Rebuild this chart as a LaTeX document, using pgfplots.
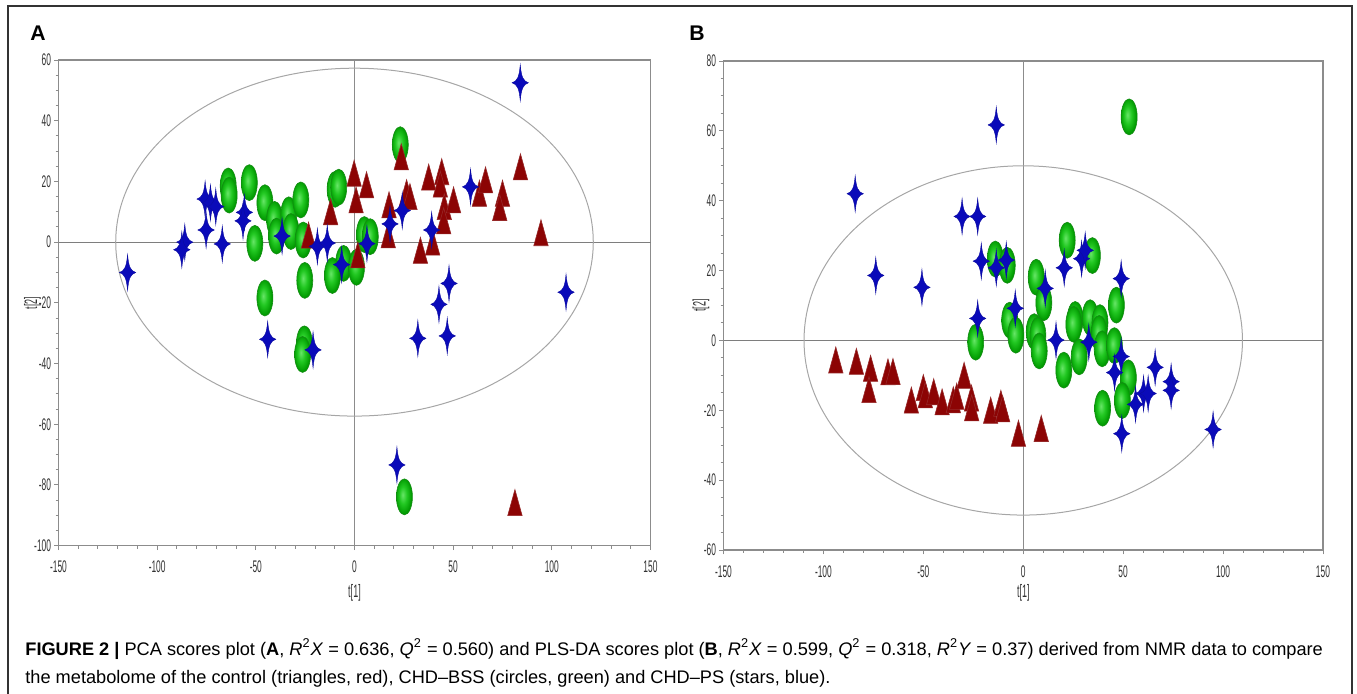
\documentclass[border=0pt]{standalone}
\usepackage{pgfplots}
\pgfplotsset{compat=1.18}
\usepackage{fontspec}
\setmainfont{Liberation Sans}
\newfontfamily\narrow[FakeStretch=0.5]{Liberation Sans}
\definecolor{trifill}{RGB}{140,4,4}
\definecolor{tridraw}{RGB}{150,40,40}
\definecolor{ellfill}{RGB}{34,200,34}
\definecolor{elldraw}{RGB}{20,140,20}
\definecolor{starfill}{RGB}{10,10,185}
\definecolor{stardraw}{RGB}{10,10,160}
\definecolor{axgray}{RGB}{140,140,140}
\definecolor{ticktext}{RGB}{50,50,50}
\pgfdeclareradialshading{greenshade}{\pgfpoint{-0.2cm}{0.1cm}}{%
  color(0bp)=(green!55!white!90!black); color(12bp)=(ellfill); color(25bp)=(green!60!black); color(50bp)=(green!60!black)}

\pgfdeclareplotmark{tri}{%
  \pgfpathmoveto{\pgfqpoint{0pt}{6.5pt}}%
  \pgfpathlineto{\pgfqpoint{3.6pt}{-6.5pt}}%
  \pgfpathlineto{\pgfqpoint{-3.6pt}{-6.5pt}}%
  \pgfpathclose
  \pgfusepathqfillstroke}
\pgfdeclareplotmark{ell}{%
  \pgfpathellipse{\pgfpointorigin}{\pgfqpoint{4pt}{0pt}}{\pgfqpoint{0pt}{9pt}}%
  \pgfshadepath{greenshade}{0}%
  \pgfusepath{stroke}}
\pgfdeclareplotmark{star4}{%
  \pgfpathmoveto{\pgfqpoint{4.1pt}{0pt}}%
  \pgfpathcurveto{\pgfqpoint{1.5pt}{0.8pt}}{\pgfqpoint{0.55pt}{2.8pt}}{\pgfqpoint{0pt}{9pt}}%
  \pgfpathcurveto{\pgfqpoint{-0.55pt}{2.8pt}}{\pgfqpoint{-1.5pt}{0.8pt}}{\pgfqpoint{-4.1pt}{0pt}}%
  \pgfpathcurveto{\pgfqpoint{-1.5pt}{-0.8pt}}{\pgfqpoint{-0.55pt}{-2.8pt}}{\pgfqpoint{0pt}{-9pt}}%
  \pgfpathcurveto{\pgfqpoint{0.55pt}{-2.8pt}}{\pgfqpoint{1.5pt}{-0.8pt}}{\pgfqpoint{4.1pt}{0pt}}%
  \pgfpathclose
  \pgfusepathqfillstroke}

\pgfplotsset{
  scoreplot/.style={
    scale only axis,
    anchor=south west,
    axis line style={axgray, line width=0.7pt},
    tick style={axgray, line width=0.5pt},
    tick align=outside,
    xtick pos=left, ytick pos=left,
    major tick length=2.2pt, minor tick length=1.4pt,
    minor x tick num=4, minor y tick num=3,
    xmin=-150, xmax=150, xtick={-150,-100,...,150},
    /pgf/number format/assume math mode=true,
    ticklabel style={font=\narrow\fontsize{8.4}{9}\selectfont, text=ticktext},
    xticklabel style={yshift=-2pt},
    yticklabel style={xshift=2pt},
    label style={font=\narrow\fontsize{9}{9}\selectfont, text=ticktext},
    xlabel={t[1]}, ylabel={t[2]},
    clip=false,
  },
  green pts/.style={only marks, mark=ell, mark options={draw=elldraw, line width=0.3pt}},
  red pts/.style={only marks, mark=tri, mark options={fill=trifill, draw=tridraw, line width=0.3pt}},
  blue pts/.style={only marks, mark=star4, mark options={fill=starfill, draw=stardraw, line width=0.2pt}},
}

\begin{document}
\begin{tikzpicture}
\path[use as bounding box] (0pt,0pt) rectangle (678.5pt,346.5pt);
\draw[line width=1pt, black!80] (3.9pt,-1pt) -- (3.9pt,343.4pt) -- (676pt,343.4pt) -- (676pt,-1pt);

\node[font=\bfseries\fontsize{10.6}{11}\selectfont] at (19pt,330pt) {A};
\node[font=\bfseries\fontsize{10.6}{11}\selectfont] at (348.5pt,330pt) {B};

% Panel A
\begin{axis}[scoreplot, at={(29.25pt,73.65pt)}, width=296pt, height=242.85pt,
  ymin=-100, ymax=60, ytick={-100,-80,...,60},
  xlabel style={at={(axis description cs:0.5,-0.0976)}, anchor=center},
  ylabel style={at={(axis description cs:-0.044,0.5)}, anchor=center}]
\addplot[axgray!90!black, line width=0.5pt] coordinates {(-150,0) (150,0)};
\addplot[axgray, line width=0.4pt] coordinates {(0,-100) (0,60)};
\draw[gray!70, line width=0.5pt] (axis cs:0,0) ellipse [x radius=121, y radius=57.3];
\addplot[green pts] table {
x y
-64 18.5
-63.5 15.5
-53.3 19.6
-45.4 13
-40.5 7.5
-39.5 2
-50.5 -0.4
-33.3 9
-32.2 3.5
-27.2 13.9
-26 0.7
-9.8 17.4
-8 18.1
5 2.5
8 1.8
23.2 32.1
-5.5 -7
-11.2 -11
1 -8.3
-25.2 -12.6
-45.4 -18.4
-25.4 -33.5
-26.3 -37
25.3 -83.9
};
\addplot[red pts] table {
x y
23.7 28.1
-0.2 22.7
6.1 18.9
0.8 13.9
-12.1 10
-23.3 2.3
1.7 -4.2
17.5 12.3
17.1 2.4
26.4 16.3
28.1 15
37.6 21.4
44.2 23.2
43.5 19.1
45.5 11.7
50.2 13.9
45.2 7
39.6 0
33.4 -2.7
63.3 16.1
66.4 20.5
75 16.1
73.6 11.4
84.1 24.8
94.5 3.1
81.3 -85.8
};
\addplot[blue pts] table {
x y
84 52.5
-115 -10
-86 0
-87.5 -2.5
-75.7 14.2
-73 13
-70.3 11.7
-75.2 4
-67 -0.6
-55.8 9.8
-56.5 7.0
-36.7 2
-18.8 -1.4
-13.8 -0.3
-6.5 -7.4
-44 -32
-21 -35.5
58.8 18.2
24.2 10.4
18 6
39.1 4
6.3 -0.5
47.9 -13.6
42.8 -20.5
107.2 -16.5
32.1 -31.7
47 -30.9
21.5 -73.4
};
\end{axis}

% Panel B
\begin{axis}[scoreplot, at={(361.75pt,71.5pt)}, width=299.75pt, height=244.5pt,
  ymin=-60, ymax=80, ytick={-60,-40,...,80},
  xlabel style={at={(axis description cs:0.5,-0.0879)}, anchor=center},
  ylabel style={at={(axis description cs:-0.0377,0.5)}, anchor=center}]
\addplot[axgray!90!black, line width=0.5pt] coordinates {(-150,0) (150,0)};
\addplot[axgray, line width=0.4pt] coordinates {(0,-60) (0,80)};
\draw[gray!70, line width=0.5pt] (axis cs:0,0) ellipse [x radius=109.7, y radius=50];
\addplot[green pts] table {
x y
53 64
-14 23.3
-8 21.5
22 28.7
34.6 24.3
6.5 18.1
10.3 10.8
46.6 10.1
-6.8 5.8
-3.7 1.5
5.5 2.5
7.3 1.5
8 -3
-23.8 -0.5
26 6
25.3 4.6
33.5 6.5
38.4 5.1
38 2
28 -4.7
20.3 -8.5
39.5 -2.4
45.6 -1.5
52.6 -10.7
49.6 -17.2
39.7 -19.4
};
\addplot[red pts] table {
x y
-93.8 -5.6
-83.5 -6
-76.4 -8
-77.2 -14.1
-67.7 -9
-65.2 -8.9
-56 -17.1
-50 -13.5
-49 -15.6
-44.8 -14.7
-40.6 -17.6
-35 -17
-33.3 -16
-29.6 -10
-25.9 -16.5
-25.8 -19.3
-16.3 -20
-11.2 -18
-10.3 -19.6
-2.4 -26.6
9 -25.2
};
\addplot[blue pts] table {
x y
-13.5 61.7
-84.1 42
-30.6 35.5
-22.8 35.5
-73.8 18.6
-50.7 15.2
-21 22.7
-13.5 20.8
-8.5 23
-22.8 6.3
-4 9.2
11 14.9
20.5 20.8
29.2 23.4
31 25.8
49 17.7
16.4 0.1
32.8 -0.5
49 -4.6
45.7 -9.2
66 -7.7
74 -11.8
74 -14.3
60.2 -15.2
62.5 -15.2
56.2 -18.3
49.3 -26.7
95 -25.5
};
\end{axis}

% Caption
\node[anchor=base west, inner sep=0pt, font=\fontsize{9.1}{11}\selectfont] at (12.5pt,19pt)
 {\textbf{FIGURE 2 |} PCA scores plot (\textbf{A}, \textit{R}\textsuperscript{2}\textit{X} = 0.636, \textit{Q}\textsuperscript{2} = 0.560) and PLS-DA scores plot (\textbf{B}, \textit{R}\textsuperscript{2}\textit{X} = 0.599, \textit{Q}\textsuperscript{2} = 0.318, \textit{R}\textsuperscript{2}\textit{Y} = 0.37) derived from NMR data to compare};
\node[anchor=base west, inner sep=0pt, font=\fontsize{9.1}{11}\selectfont] at (12.5pt,5pt)
 {the metabolome of the control (triangles, red), CHD–BSS (circles, green) and CHD–PS (stars, blue).};
\end{tikzpicture}
\end{document}
